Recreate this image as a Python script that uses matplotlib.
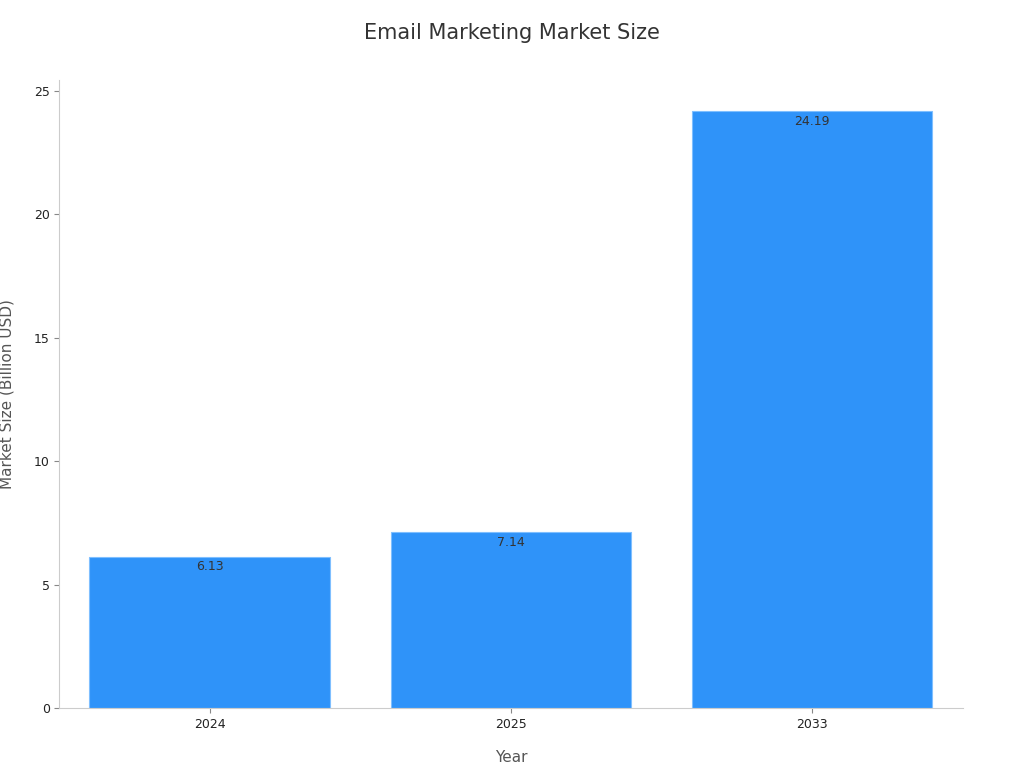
import matplotlib
matplotlib.use("Agg")
import matplotlib.pyplot as plt

years = ["2024", "2025", "2033"]
values = [6.13, 7.14, 24.19]

fig = plt.figure(figsize=(10.24, 7.68), dpi=100)
ax = fig.add_axes([0.058, 0.078, 0.882, 0.818])
bars = ax.bar(years, values, width=0.8, color="#2f93f9", edgecolor="#7fbfff", linewidth=0.8)
for b, v in zip(bars, values):
    ax.text(b.get_x() + b.get_width()/2, v - 0.15, f"{v:.2f}", ha="center", va="top", fontsize=9, color="#333333")
ax.set_ylim(0, 25.45)
ax.set_xlim(-0.5, 2.5)
ax.set_yticks([0, 5, 10, 15, 20, 25])
for s in ["top", "right"]:
    ax.spines[s].set_visible(False)
for s in ["left", "bottom"]:
    ax.spines[s].set_color("#cccccc")
ax.tick_params(colors="#222222", labelsize=9)
ax.tick_params(axis="both", color="#888888")
ax.set_xlabel("Year", fontsize=11, color="#555555", labelpad=14)
ax.set_ylabel("Market Size (Billion USD)", fontsize=11, color="#555555", labelpad=14)
fig.suptitle("Email Marketing Market Size", fontsize=15, color="#333333", y=0.97)
fig.savefig("out.png", dpi=100)
